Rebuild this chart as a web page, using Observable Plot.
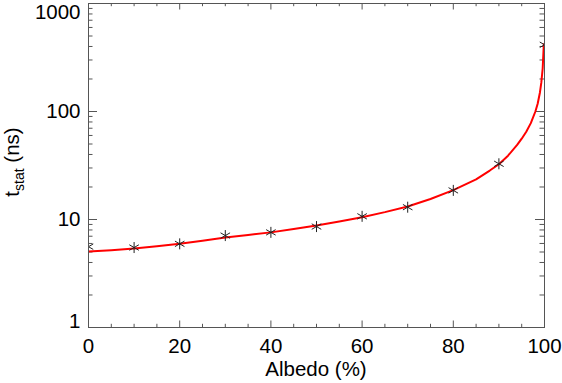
<!DOCTYPE html>
<html><head><meta charset="utf-8">
<script src="https://cdn.jsdelivr.net/npm/d3@7"></script>
<script src="https://cdn.jsdelivr.net/npm/@observablehq/plot@0.6"></script>
<style>body{margin:0;background:#fff} #chart svg{display:block}</style>
</head><body><div id="chart"></div>
<script>
const markerAlbedo = [0, 10, 20, 30, 40, 50, 60, 70, 80, 90, 100];
const markerT = [5.6, 5.5, 5.95, 7.1, 7.6, 8.6, 10.7, 13.0, 18.6, 32.8, 415];
const curveAlbedo = [0, 5, 10, 15, 20, 25, 30, 35, 40, 45, 50, 55, 60, 65, 70, 75, 80, 85, 88, 90, 92, 94, 95, 96, 97, 98, 98.5, 99, 99.3, 99.6, 99.85];
const curveT = [5.05, 5.2, 5.4, 5.65, 5.95, 6.35, 6.8, 7.2, 7.6, 8.15, 8.8, 9.6, 10.5, 11.7, 13.2, 15.5, 18.7, 23.5, 28.4, 32.5, 39, 49, 56, 65, 78, 100, 118, 150, 185, 250, 420];
const xTickValues = [0, 20, 40, 60, 80, 100];
const xMinorValues = [5, 10, 15, 25, 30, 35, 45, 50, 55, 65, 70, 75, 85, 90, 95];
const yTickValues = [1, 10, 100, 1000];
const yMinorValues = [2,3,4,5,6,7,8,9,20,30,40,50,60,70,80,90,200,300,400,500,600,700,800,900];
const xLabel = "Albedo (%)";

const W = 562, H = 383, mL = 88, mR = 18, mT = 3, mB = 56;
const pw = W - mL - mR, ph = H - mT - mB;
const font = "'Liberation Sans', Arial, Helvetica, sans-serif";
const fs = 20.5;
const axisColor = "#555";

const curve = curveAlbedo.map((a, i) => ({a, t: curveT[i]}));
const markers = markerAlbedo.map((a, i) => ({a, t: markerT[i]}));
const yInner = yTickValues.slice(1, -1);
const yBottom = yTickValues.slice(0, 1);
const yTop = yTickValues.slice(-1);

const yAxisOpts = {tickSize: 0, tickPadding: 8, fontSize: fs, label: null, tickFormat: d => String(d), fill: "#000"};

const plot = Plot.plot({
  width: W, height: H,
  marginLeft: mL, marginRight: mR, marginTop: mT, marginBottom: mB,
  style: {fontFamily: font, background: "#fff", color: "#000", overflow: "visible"},
  x: {domain: [0, 100], axis: null},
  y: {type: "log", domain: [1, 1000], axis: null},
  marks: [
    Plot.ruleX(xTickValues, {x: d => d, insetTop: ph - 6.5, stroke: axisColor}),
    Plot.ruleX(xTickValues, {x: d => d, insetBottom: ph - 6.5, stroke: axisColor}),
    Plot.ruleX(xMinorValues, {x: d => d, insetTop: ph - 3.2, stroke: axisColor}),
    Plot.ruleX(xMinorValues, {x: d => d, insetBottom: ph - 3.2, stroke: axisColor}),
    Plot.ruleY(yTickValues, {y: d => d, insetRight: pw - 9, stroke: axisColor}),
    Plot.ruleY(yTickValues, {y: d => d, insetLeft: pw - 9, stroke: axisColor}),
    Plot.ruleY(yMinorValues, {y: d => d, insetRight: pw - 4.5, stroke: axisColor}),
    Plot.ruleY(yMinorValues, {y: d => d, insetLeft: pw - 4.5, stroke: axisColor}),
    Plot.line(curve, {x: "a", y: "t", stroke: "#ff0000", strokeWidth: 2, clip: true}),
    Plot.dot(markers, {x: "a", y: "t", symbol: "asterisk", r: 5.2, stroke: "#222", strokeWidth: 1, clip: true}),
    Plot.frame({stroke: axisColor}),
    Plot.axisX(xTickValues, {tickSize: 0, tickPadding: 11, fontSize: fs, label: null, tickFormat: d => String(d), fill: "#000"}),
    Plot.axisY(yInner, yAxisOpts),
    Plot.axisY(yBottom, {...yAxisOpts, dy: -6}),
    Plot.axisY(yTop, {...yAxisOpts, dy: 8.5})
  ]
});
document.getElementById("chart").appendChild(plot);

const svg = d3.select(plot);
svg.append("text")
  .attr("x", mL + pw / 2).attr("y", 376)
  .attr("text-anchor", "middle")
  .attr("font-family", font).attr("font-size", fs).attr("fill", "#000")
  .text(xLabel);

const yl = svg.append("text")
  .attr("transform", `translate(18.5,${mT + ph / 2 - 3}) rotate(-90)`)
  .attr("text-anchor", "middle")
  .attr("font-family", font).attr("font-size", fs).attr("fill", "#000");
yl.append("tspan").text("t");
yl.append("tspan").attr("font-size", 14).attr("dy", 5).text("stat");
yl.append("tspan").attr("dy", -5).text(" (ns)");
</script>
</body></html>
